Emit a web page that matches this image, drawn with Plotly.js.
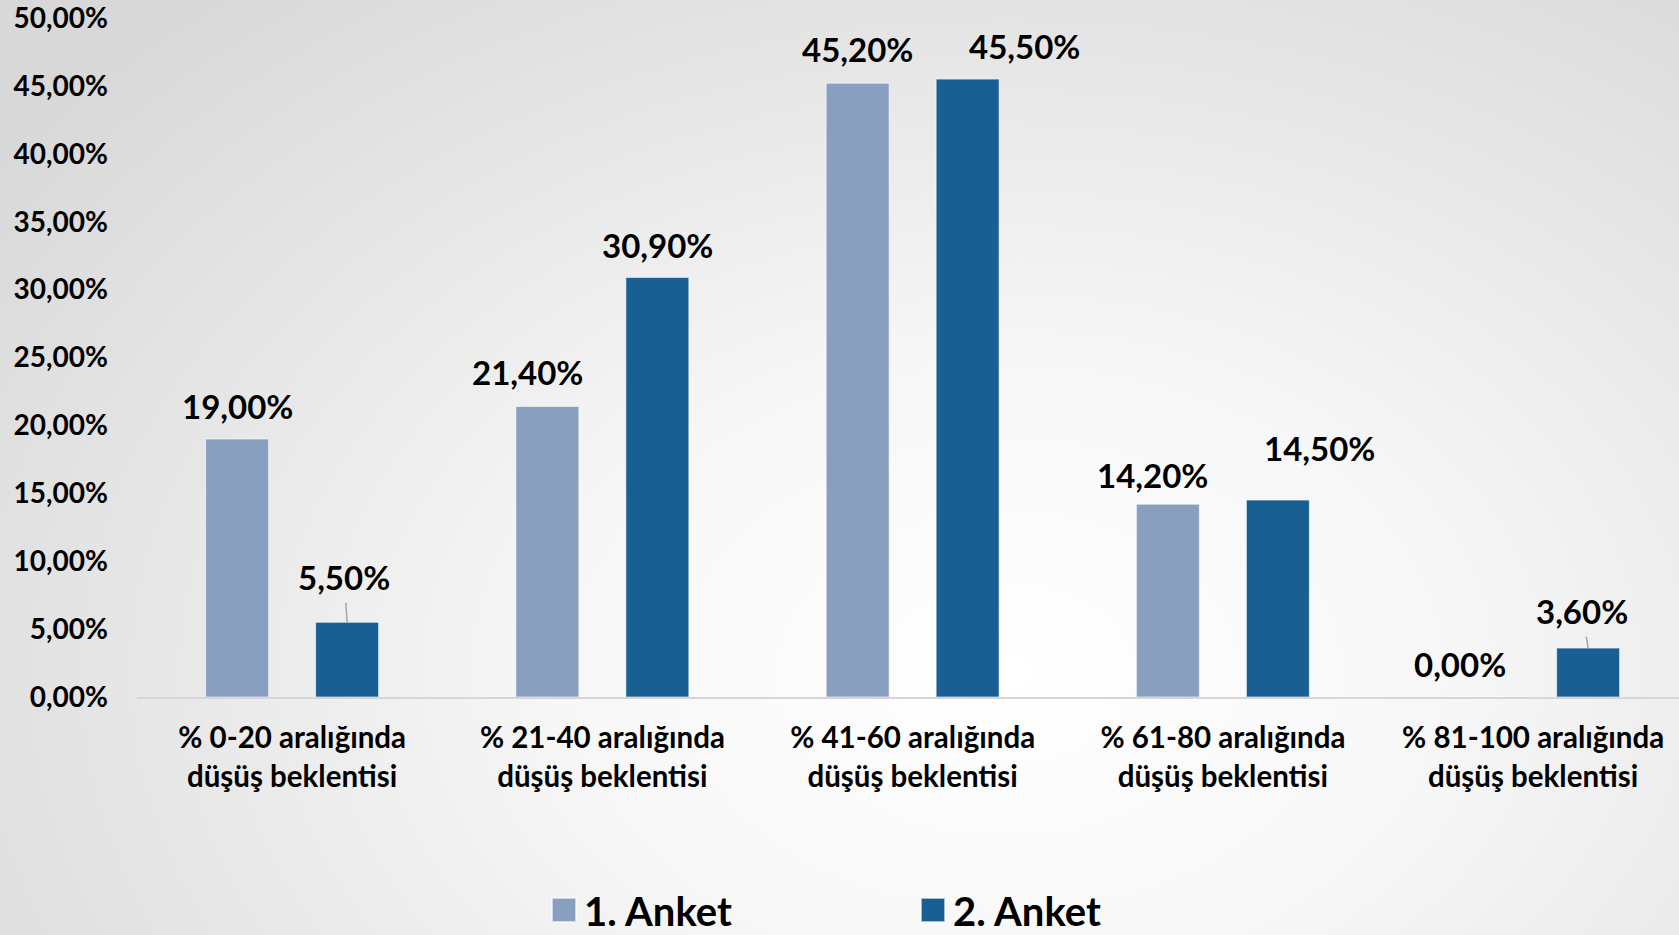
<!DOCTYPE html>
<html>
<head>
<meta charset="utf-8">
<script src="https://cdn.plot.ly/plotly-3.0.1.min.js"></script>
<style>
  html, body { margin: 0; padding: 0; }
  body {
    width: 1679px; height: 935px; overflow: hidden;
    background: radial-gradient(ellipse 75% 95% at 60% 72%, #ffffff 0%, #f7f7f7 35%, #e6e6e6 70%, #d8d8d8 100%);
  }
  #chart { width: 1679px; height: 935px; }
</style>
</head>
<body>
<div id="chart"></div>
<script>
// ---- data ----
var categories = [
  "% 0-20 aralığında<br>düşüş beklentisi",
  "% 21-40 aralığında<br>düşüş beklentisi",
  "% 41-60 aralığında<br>düşüş beklentisi",
  "% 61-80 aralığında<br>düşüş beklentisi",
  "% 81-100 aralığında<br>düşüş beklentisi"
];
var seriesNames = ["1. Anket", "2. Anket"];
var anket1 = [19.0, 21.4, 45.2, 14.2, 0.0];
var anket2 = [5.5, 30.9, 45.5, 14.5, 3.6];

// ---- styling ----
var colors = ["#889FC0", "#1A5F93"];
var FONT = "Lato, 'Open Sans', sans-serif";
var bargap = 0.291, bargroupgap = 0.4275;
var slot = (1 - bargap) / 2;           // category units per bar slot
var slotOffsets = [-slot / 2, slot / 2];
// label nudges in pixels (dx, dy of label centre relative to bar top centre)
var labelNudge = [
  [[0, -33], [-20, -34], [0, -34], [-15, -29], [-18, -33]],
  [[-3, -45], [0, -32], [57, -33], [42, -52], [-6, -37]]
];
var leader = [[false, false, false, false, false], [true, false, false, false, true]];

function fmt(v) { return v.toFixed(2).replace(".", ",") + "%"; }

var series = [anket1, anket2];
var traces = series.map(function (vals, s) {
  return {
    type: "bar",
    name: seriesNames[s],
    x: categories,
    y: vals,
    marker: { color: colors[s], line: { color: "rgba(255,255,255,0.6)", width: 1 } },
    hoverinfo: "skip"
  };
});

var annotations = [];
series.forEach(function (vals, s) {
  vals.forEach(function (v, i) {
    var n = labelNudge[s][i];
    var a = {
      xref: "x", yref: "y",
      x: i + slotOffsets[s], y: v,
      text: fmt(v),
      font: { family: FONT, size: 33, color: "#000000", weight: 700 }
    };
    if (leader[s][i]) {
      a.showarrow = true;
      a.arrowhead = 0;
      a.arrowwidth = 1.5;
      a.arrowcolor = "#a6a6a6";
      a.ax = n[0];
      a.ay = n[1];
      a.borderpad = 5;
    } else {
      a.showarrow = false;
      a.xshift = n[0];
      a.yshift = -n[1];
      a.yanchor = "middle";
    }
    annotations.push(a);
  });
});

var layout = {
  width: 1679, height: 935,
  paper_bgcolor: "rgba(0,0,0,0)",
  plot_bgcolor: "rgba(0,0,0,0)",
  separators: ",.",
  font: { family: FONT, color: "#000000", weight: 700 },
  margin: { l: 137, r: 0, t: 18, b: 238, pad: 0 },
  barmode: "group",
  bargap: bargap,
  bargroupgap: bargroupgap,
  xaxis: {
    type: "category",
    range: [-0.5, -0.5 + 1542 / 310.25],
    showgrid: false, zeroline: false,
    showline: true, linecolor: "#d6d6d6", linewidth: 2,
    ticks: "",
    ticklabelstandoff: 14,
    tickfont: { family: FONT, size: 29.5, color: "#000000", weight: 700 }
  },
  yaxis: {
    range: [0, 50],
    dtick: 5,
    tick0: 0,
    tickformat: ".2f",
    ticksuffix: "%",
    showgrid: false, zeroline: false, showline: false,
    ticks: "",
    ticklabelstandoff: 28,
    ticklabeloverflow: "allow",
    tickfont: { family: FONT, size: 28, color: "#000000", weight: 700 }
  },
  showlegend: true,
  legend: {
    orientation: "h",
    xref: "container", yref: "container",
    x: 544 / 1679, xanchor: "left",
    y: 25 / 935, yanchor: "middle",
    entrywidth: 324, entrywidthmode: "pixels",
    font: { family: FONT, size: 40, color: "#000000", weight: 700 },
    bgcolor: "rgba(0,0,0,0)",
    traceorder: "normal"
  },
  annotations: annotations
};

Plotly.newPlot("chart", traces, layout, { displayModeBar: false, staticPlot: true }).then(function () {
  document.querySelectorAll(".legendpoints path").forEach(function (p) {
    var t = p.getAttribute("transform") || "";
    p.setAttribute("transform", t + " scale(2)");
  });
});
</script>
</body>
</html>
